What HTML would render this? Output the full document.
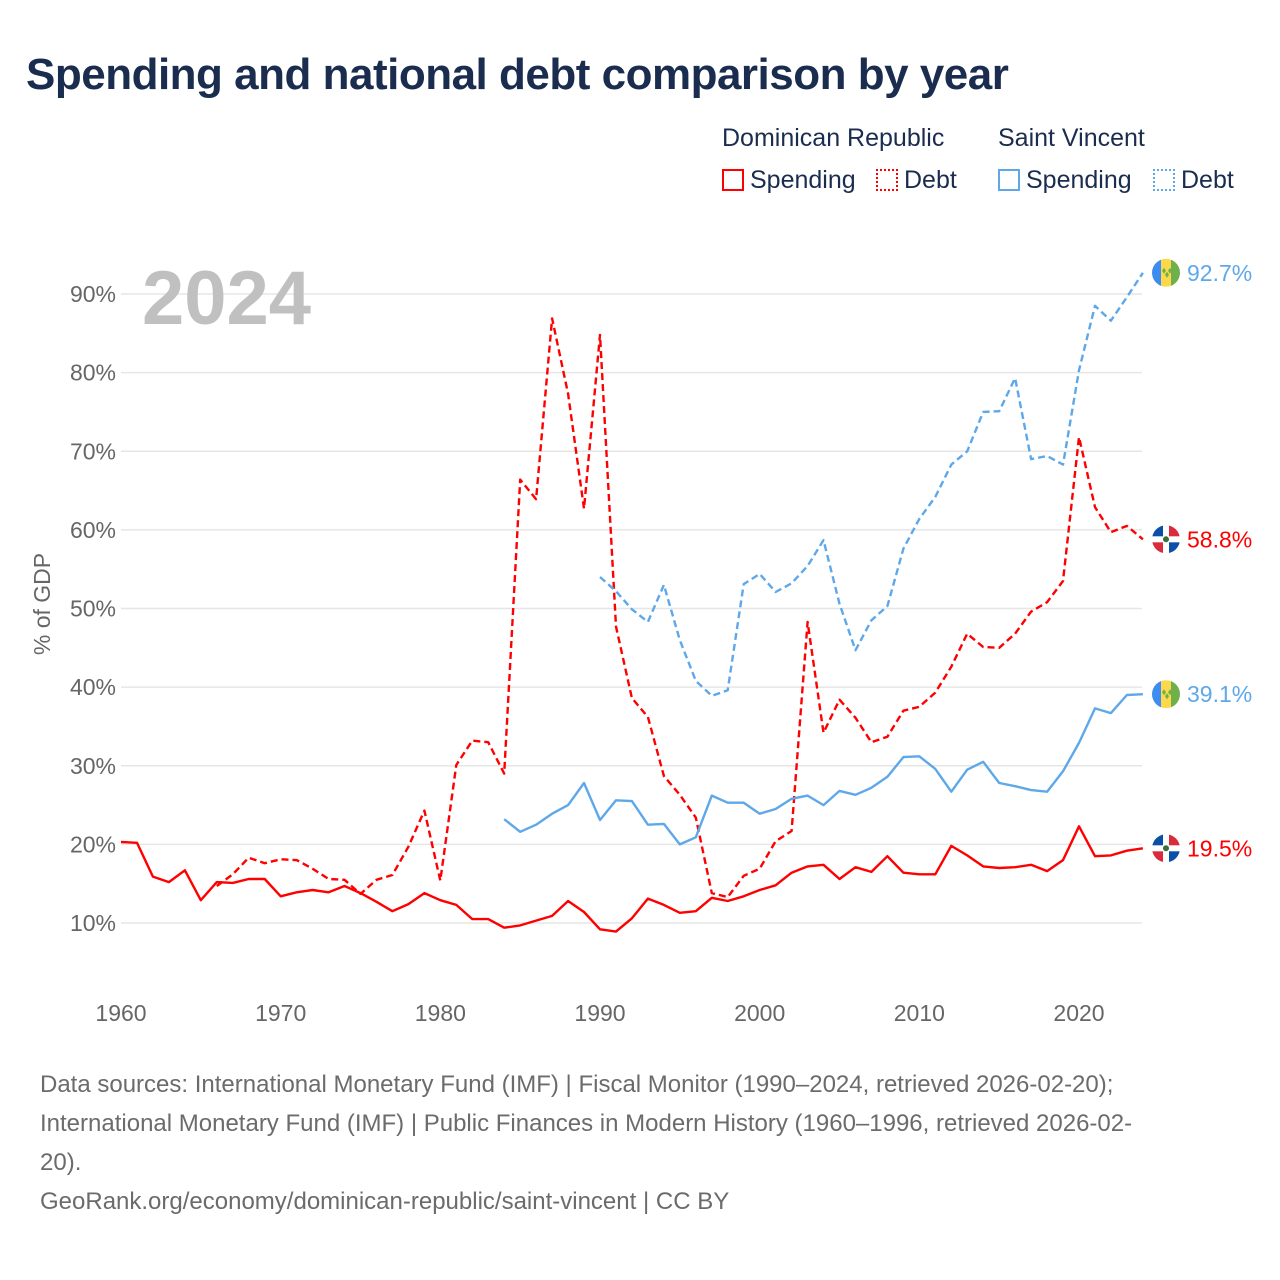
<!DOCTYPE html>
<html><head><meta charset="utf-8"><style>
body{margin:0;background:#fff;font-family:"Liberation Sans",sans-serif}
#wrap{position:relative;width:1280px;height:1280px;overflow:hidden}
.t{position:absolute;white-space:nowrap}
</style></head><body>
<div id="wrap">
<div class="t" style="left:26px;top:50px;font-size:44px;font-weight:bold;color:#1b2d4f;letter-spacing:-0.5px">Spending and national debt comparison by year</div>
<div class="t" style="left:722px;top:124px;font-size:25px;color:#1b2d4f">Dominican Republic</div>
<div class="t" style="left:998px;top:124px;font-size:25px;color:#1b2d4f">Saint Vincent</div>
<div class="t" style="left:722px;top:166px;font-size:25px;color:#1b2d4f"><span style="display:inline-block;width:22px;height:22px;border:2px solid #f00;box-sizing:border-box;vertical-align:-3px;margin-right:6px"></span>Spending</div>
<div class="t" style="left:876px;top:166px;font-size:25px;color:#1b2d4f"><span style="display:inline-block;width:22px;height:22px;border:2px dotted #f00;box-sizing:border-box;vertical-align:-3px;margin-right:6px"></span>Debt</div>
<div class="t" style="left:998px;top:166px;font-size:25px;color:#1b2d4f"><span style="display:inline-block;width:22px;height:22px;border:2px solid #5ea8ea;box-sizing:border-box;vertical-align:-3px;margin-right:6px"></span>Spending</div>
<div class="t" style="left:1153px;top:166px;font-size:25px;color:#1b2d4f"><span style="display:inline-block;width:22px;height:22px;border:2px dotted #5ea8ea;box-sizing:border-box;vertical-align:-3px;margin-right:6px"></span>Debt</div>
<svg id="chart" width="1280" height="1280" style="position:absolute;left:0;top:0"></svg>
<div class="t" style="left:40px;top:1065px;font-size:24px;color:#6b6b6b;line-height:39px">Data sources: International Monetary Fund (IMF) | Fiscal Monitor (1990–2024, retrieved 2026-02-20);<br>International Monetary Fund (IMF) | Public Finances in Modern History (1960–1996, retrieved 2026-02-<br>20).<br>GeoRank.org/economy/dominican-republic/saint-vincent | CC BY</div>
</div>
<script>
const drSpendStart = 1960;
const drSpending = [20.3,20.2,15.9,15.2,16.7,12.9,15.2,15.1,15.6,15.6,13.4,13.9,14.2,13.9,14.7,13.8,12.7,11.5,12.4,13.8,12.9,12.3,10.5,10.5,9.4,9.7,10.3,10.9,12.8,11.4,9.2,8.9,10.6,13.1,12.3,11.3,11.5,13.2,12.8,13.4,14.2,14.8,16.4,17.2,17.4,15.6,17.1,16.5,18.5,16.4,16.2,16.2,19.8,18.6,17.2,17.0,17.1,17.4,16.6,18.0,22.3,18.5,18.6,19.2,19.5];
const drDebtStart = 1966;
const drDebt = [14.7,16.2,18.3,17.6,18.1,18.0,16.9,15.6,15.5,13.7,15.5,16.1,19.7,24.3,15.4,30.1,33.2,33.0,29.0,66.4,63.9,86.9,77.3,62.7,84.8,47.7,38.6,36.2,28.7,26.3,23.4,13.8,13.3,16.0,16.9,20.4,21.7,48.3,34.2,38.4,36.1,33.0,33.7,37.0,37.5,39.3,42.6,46.8,45.1,45.0,46.8,49.6,50.8,53.5,71.8,62.9,59.7,60.5,58.8];
const svSpendStart = 1984;
const svSpending = [23.2,21.6,22.5,23.9,25.0,27.8,23.1,25.6,25.5,22.5,22.6,20.0,20.9,26.2,25.3,25.3,23.9,24.5,25.8,26.2,25.0,26.8,26.3,27.2,28.6,31.1,31.2,29.6,26.7,29.5,30.5,27.8,27.4,26.9,26.7,29.3,32.9,37.3,36.7,39.0,39.1];
const svDebtStart = 1990;
const svDebt = [54.0,52.2,49.9,48.3,53.0,46.0,40.8,38.9,39.6,53.1,54.4,52.1,53.2,55.4,58.7,50.6,44.7,48.5,50.3,57.6,61.4,64.2,68.3,70.0,75.0,75.1,79.3,69.0,69.4,68.3,80.3,88.5,86.6,89.6,92.7];
const yTicks = [10,20,30,40,50,60,70,80,90];
const xTicks = [1960,1970,1980,1990,2000,2010,2020];

const NS='http://www.w3.org/2000/svg';
const svg=document.getElementById('chart');
const X=y=>121+(y-1960)*(1079-121)/60;
const Y=v=>923-(v-10)*7.8625;
function el(t,a,p){const e=document.createElementNS(NS,t);for(const k in a)e.setAttribute(k,a[k]);(p||svg).appendChild(e);return e;}
yTicks.forEach(v=>{
  const g=el('line',{x1:121,x2:1142,y1:Y(v),y2:Y(v),stroke:'#e6e6e6','stroke-width':1.5});
  
  
  const t=el('text',{x:116,y:Y(v)+8,'text-anchor':'end','font-size':23,fill:'#666','font-family':'Liberation Sans, sans-serif'});
  t.textContent=v+'%';
  
  
});
xTicks.forEach(y=>{
  const t=el('text',{x:X(y),y:1021,'text-anchor':'middle','font-size':23,fill:'#666','font-family':'Liberation Sans, sans-serif'});
  t.textContent=y;
  
  
});
const yt=el('text',{transform:'translate(50,604) rotate(-90)','text-anchor':'middle','font-size':23,fill:'#666','font-family':'Liberation Sans, sans-serif'});
yt.textContent='% of GDP';


const yr=el('text',{x:142,y:324,'font-size':76,'font-weight':'bold',fill:'#c0c0c0','font-family':'Liberation Sans, sans-serif'});
yr.textContent='2024';


function series(arr,start,color,dash,name){
  const pts=arr.map((v,i)=>X(start+i).toFixed(1)+','+Y(v).toFixed(1)).join(' ');
  const a={points:pts,fill:'none',stroke:color,'stroke-width':2.4,'stroke-linejoin':'round'};
  if(dash)a['stroke-dasharray']='7 4';
  const p=el('polyline',a);
  
  
}
series(drSpending,drSpendStart,'#ff0000',false,'line-dr-spending');
series(drDebt,drDebtStart,'#ff0000',true,'line-dr-debt');
series(svSpending,svSpendStart,'#5ea8ea',false,'line-svg-spending');
series(svDebt,svDebtStart,'#5ea8ea',true,'line-svg-debt');
function flag(kind,v,color,name){
  const cx=1166,cy=Y(v),g=el('g',{});
  
  
  const cid='c'+Math.round(cy);
  const cp=el('clipPath',{id:cid},g);el('circle',{cx,cy,r:14},cp);
  const inner=el('g',{'clip-path':'url(#'+cid+')'},g);
  if(kind==='sv'){
    el('rect',{x:cx-14,y:cy-14,width:9,height:28,fill:'#3d8cf0'},inner);
    el('rect',{x:cx-5,y:cy-14,width:10,height:28,fill:'#fcd84a'},inner);
    el('rect',{x:cx+5,y:cy-14,width:9,height:28,fill:'#6fb04a'},inner);
    el('path',{d:`M${cx-4} ${cy-2}l2-3 2 3-2 3zM${cx+2} ${cy-2}l2-3 2 3-2 3zM${cx-1} ${cy+2}l2-3 2 3-2 3z`,fill:'#6fb04a'},inner);
  }else{
    el('rect',{x:cx-14,y:cy-14,width:28,height:28,fill:'#fff'},inner);
    el('rect',{x:cx-14,y:cy-14,width:11,height:11,fill:'#0a4fa8'},inner);
    el('rect',{x:cx+3,y:cy-14,width:11,height:11,fill:'#d92b3c'},inner);
    el('rect',{x:cx-14,y:cy+3,width:11,height:11,fill:'#d92b3c'},inner);
    el('rect',{x:cx+3,y:cy+3,width:11,height:11,fill:'#0a4fa8'},inner);
    el('circle',{cx,cy,r:3,fill:'#3a6e3a'},inner);
  }
  const t=el('text',{x:1187,y:cy+8,'font-size':23,fill:color,'font-family':'Liberation Sans, sans-serif'});
  t.textContent=v.toFixed(1)+'%';
  
  
}
flag('sv',svDebt[svDebt.length-1],'#5ea8ea','end-marker-svg-debt');
flag('dr',drDebt[drDebt.length-1],'#ff0000','end-marker-dr-debt');
flag('sv',svSpending[svSpending.length-1],'#5ea8ea','end-marker-svg-spending');
flag('dr',drSpending[drSpending.length-1],'#ff0000','end-marker-dr-spending');
</script>
</body></html>
